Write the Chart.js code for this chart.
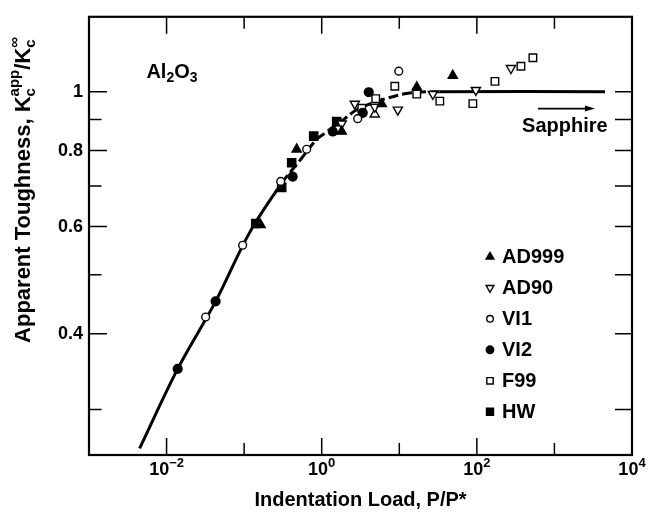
<!DOCTYPE html>
<html><head><meta charset="utf-8">
<script src="https://cdn.jsdelivr.net/npm/chart.js@4.4.0/dist/chart.umd.min.js"></script>
<style>html,body{margin:0;padding:0;background:#fff;}</style>
</head><body>
<canvas id="c" width="656" height="515"></canvas>
<script>
// ---------- data ----------
const xTickValues = [1e-3, 1e-2, 1e-1, 1e0, 1e1, 1e2, 1e3, 1e4];
const xTickExponents = ['', '−2', '', '0', '', '2', '', '4'];
const yTickValues = [0.3, 0.4, 0.5, 0.6, 0.7, 0.8, 0.9, 1.0];
const yTickLabels = ['', '0.4', '', '0.6', '', '0.8', '', '1'];

const seriesNames = ['AD999', 'AD90', 'VI1', 'VI2', 'F99', 'HW'];

const ad999X = [0.163, 0.476, 1.81, 5.95, 16.8, 49.0];
const ad999Y = [0.604, 0.804, 0.860, 0.955, 1.017, 1.063];
const ad999OpenX = [4.83];
const ad999OpenY = [0.918];

const ad90X = [1.81, 2.67, 4.83, 9.57, 27.1, 97.1, 275];
const ad90Y = [0.886, 0.955, 0.944, 0.934, 0.991, 1.006, 1.093];

const vi1X = [0.0319, 0.0957, 0.296, 0.640, 2.91, 9.85];
const vi1Y = [0.426, 0.559, 0.712, 0.804, 0.903, 1.081];

const vi2X = [0.0139, 0.0429, 0.422, 1.39, 3.38, 4.04];
const vi2Y = [0.350, 0.452, 0.725, 0.860, 0.923, 0.998];

const f99X = [3.28, 4.97, 8.75, 16.8, 33.3, 88.8, 171, 370, 528];
const f99Y = [0.939, 0.974, 1.021, 0.991, 0.965, 0.956, 1.040, 1.101, 1.137];

const hwX = [0.141, 0.305, 0.410, 0.788, 1.56];
const hwY = [0.607, 0.696, 0.764, 0.845, 0.893];

const curveX = [0.00449, 0.0139, 0.0429, 0.118, 0.305, 0.520, 0.862, 1.09, 1.98, 2.83, 6.50, 13.7, 33.3, 4490];
const curveY = [0.259, 0.350, 0.452, 0.587, 0.707, 0.770, 0.835, 0.854, 0.903, 0.934, 0.973, 0.995, 1.0, 1.0];

// ---------- helpers ----------
const zip = (xs, ys) => xs.map((x, i) => ({x, y: ys[i]}));
const FONT = '"Liberation Sans", Arial, Helvetica, sans-serif';

const marker = (name, style, filled, radius, rotation) => ({
  label: name,
  pointStyle: style,
  rotation: rotation || 0,
  pointRadius: radius,
  pointHoverRadius: radius,
  pointBorderWidth: 1.4,
  backgroundColor: filled ? '#000' : '#fff',
  borderColor: '#000',
  showLine: false,
  order: 0
});

const datasets = [
  Object.assign(marker(seriesNames[0], 'triangle', true, 5.3), {data: zip(ad999X, ad999Y)}),
  Object.assign(marker(seriesNames[1], 'triangle', false, 5.3, 180), {data: zip(ad90X, ad90Y)}),
  Object.assign(marker(seriesNames[2], 'circle', false, 3.9), {data: zip(vi1X, vi1Y)}),
  Object.assign(marker(seriesNames[3], 'circle', true, 4.4), {data: zip(vi2X, vi2Y)}),
  Object.assign(marker(seriesNames[4], 'rect', false, 5.3), {data: zip(f99X, f99Y)}),
  Object.assign(marker(seriesNames[5], 'rect', true, 5.8), {data: zip(hwX, hwY)}),
  Object.assign(marker('AD999 (open)', 'triangle', false, 5.3), {data: zip(ad999OpenX, ad999OpenY), legendHidden: true}),
  {
    label: 'curve', legendHidden: true,
    data: zip(curveX, curveY),
    showLine: true, pointRadius: 0, borderColor: '#000', borderWidth: 3,
    tension: 0.35, fill: false, order: 5,
    segment: {
      borderDash: c => (c.p0.parsed.x >= 0.3 && c.p1.parsed.x <= 34) ? [10, 4] : undefined
    }
  }
];

// ---------- plugins ----------
const framePlugin = {
  id: 'frame',
  afterDatasetsDraw(chart) {
    const {ctx, chartArea: {left, right, top, bottom}, scales: {x, y}} = chart;
    ctx.save();
    ctx.strokeStyle = '#000';
    ctx.lineWidth = 1.5;
    ctx.beginPath();
    xTickValues.forEach((v, i) => {
      const px = x.getPixelForValue(v);
      if (px <= left + 1 || px >= right - 1) return;
      const len = xTickExponents[i] ? 17 : 12;
      ctx.moveTo(px, bottom); ctx.lineTo(px, bottom - len);
      ctx.moveTo(px, top); ctx.lineTo(px, top + len);
    });
    yTickValues.forEach((v, i) => {
      const py = y.getPixelForValue(v);
      const len = yTickLabels[i] ? 18 : 12.5;
      ctx.moveTo(left, py); ctx.lineTo(left + len, py);
      ctx.moveTo(right, py); ctx.lineTo(right - 17, py);
    });
    ctx.stroke();
    ctx.lineWidth = 2.2;
    ctx.strokeRect(left, top, right - left, bottom - top);
    ctx.restore();
  }
};

function drawScripted(ctx, parts, startX, baseY) {
  let cx = startX;
  parts.forEach(p => {
    if (p.stack) {
      let w = 0;
      p.stack.forEach(s => {
        ctx.font = s.f;
        ctx.fillText(s.t, cx, baseY + s.dy);
        w = Math.max(w, ctx.measureText(s.t).width);
      });
      cx += w;
    } else {
      ctx.font = p.f;
      ctx.fillText(p.t, cx, baseY + (p.dy || 0));
      cx += ctx.measureText(p.t).width;
    }
  });
  return cx - startX;
}
function measureScripted(ctx, parts) {
  let w = 0;
  parts.forEach(p => {
    if (p.stack) {
      let m = 0;
      p.stack.forEach(s => { ctx.font = s.f; m = Math.max(m, ctx.measureText(s.t).width); });
      w += m;
    } else { ctx.font = p.f; w += ctx.measureText(p.t).width; }
  });
  return w;
}

const textPlugin = {
  id: 'texts',
  afterDraw(chart) {
    const {ctx, chartArea, scales: {x, y}} = chart;
    const big = 'bold 22px ' + FONT;
    const sm = 'bold 15px ' + FONT;
    ctx.save();
    ctx.fillStyle = '#000';
    ctx.textBaseline = 'alphabetic';
    ctx.textAlign = 'left';

    // x tick labels (10 with superscript exponent), placed by the x scale
    xTickValues.forEach((v, i) => {
      if (!xTickExponents[i]) return;
      const parts = [
        {t: '10', f: 'bold 18px ' + FONT},
        {t: xTickExponents[i], f: 'bold 13px ' + FONT, dy: -8}
      ];
      const w = measureScripted(ctx, parts);
      drawScripted(ctx, parts, x.getPixelForValue(v) - w / 2, chartArea.bottom + 20);
    });

    // y axis title
    const yParts = [
      {t: 'Apparent Toughness, K', f: big},
      {stack: [{t: 'c', f: sm, dy: 5}, {t: 'app', f: sm, dy: -11}]},
      {t: '/K', f: big},
      {stack: [{t: 'c', f: sm, dy: 5}, {t: '∞', f: sm, dy: -11}]}
    ];
    const tw = measureScripted(ctx, yParts);
    ctx.save();
    ctx.translate(30, 190);
    ctx.rotate(-Math.PI / 2);
    drawScripted(ctx, yParts, -tw / 2, 0);
    ctx.restore();

    // Al2O3 label
    const alParts = [
      {t: 'Al', f: 'bold 20px ' + FONT},
      {t: '2', f: 'bold 14px ' + FONT, dy: 4},
      {t: 'O', f: 'bold 20px ' + FONT},
      {t: '3', f: 'bold 14px ' + FONT, dy: 4}
    ];
    drawScripted(ctx, alParts, x.getPixelForValue(0.0055), y.getPixelForValue(1.083) + 7);

    // Sapphire arrow + text
    const ay = y.getPixelForValue(0.938);
    const ax0 = x.getPixelForValue(612), ax1 = x.getPixelForValue(3330);
    ctx.strokeStyle = '#000';
    ctx.lineWidth = 1.6;
    ctx.beginPath(); ctx.moveTo(ax0, ay); ctx.lineTo(ax1 - 6, ay); ctx.stroke();
    ctx.beginPath(); ctx.moveTo(ax1, ay); ctx.lineTo(ax1 - 10, ay - 3); ctx.lineTo(ax1 - 10, ay + 3); ctx.closePath(); ctx.fill();
    ctx.font = 'bold 20px ' + FONT;
    ctx.textAlign = 'center';
    ctx.textBaseline = 'middle';
    ctx.fillText('Sapphire', x.getPixelForValue(1365), y.getPixelForValue(0.878));

    // legend
    ctx.textAlign = 'left';
    ctx.textBaseline = 'middle';
    ctx.font = 'bold 20px ' + FONT;
    const lx = chartArea.right - 142;
    let ly = chartArea.top + 240;
    chart.data.datasets.forEach(ds => {
      if (ds.legendHidden) return;
      ctx.fillStyle = ds.backgroundColor;
      ctx.strokeStyle = ds.borderColor;
      ctx.lineWidth = ds.pointBorderWidth;
      Chart.helpers.drawPoint(ctx, {pointStyle: ds.pointStyle, rotation: ds.rotation, radius: ds.pointRadius * 0.85, borderWidth: ds.pointBorderWidth}, lx, ly);
      ctx.fillStyle = '#000';
      ctx.fillText(ds.label, lx + 12, ly + 1);
      ly += 31;
    });
    ctx.restore();
  }
};

// ---------- chart ----------
new Chart(document.getElementById('c'), {
  type: 'scatter',
  data: {datasets},
  options: {
    responsive: false,
    animation: false,
    devicePixelRatio: 1,
    events: [],
    layout: {padding: {top: 8, right: 24, left: 0, bottom: 0}},
    plugins: {legend: {display: false}, tooltip: {enabled: false}},
    scales: {
      x: {
        type: 'logarithmic', min: 1e-3, max: 1e4,
        afterBuildTicks: s => { s.ticks = xTickValues.map(v => ({value: v})); },
        afterFit: s => { s.height = 60; },
        grid: {display: false, drawTicks: false},
        border: {display: false},
        ticks: {display: false},
        title: {
          display: true, text: 'Indentation Load, P/P*', color: '#000',
          font: {family: FONT, size: 20, weight: 'bold'}, padding: {top: 0, bottom: 3}
        }
      },
      y: {
        type: 'logarithmic', min: 0.2526, max: 1.328,
        afterBuildTicks: s => { s.ticks = yTickValues.map(v => ({value: v})); },
        afterFit: s => { s.width = 89; },
        grid: {display: false, drawTicks: false},
        border: {display: false},
        ticks: {
          autoSkip: false, padding: 6,
          color: '#000', font: {family: FONT, size: 18, weight: 'bold'},
          callback: (v, i) => yTickLabels[i]
        }
      }
    }
  },
  plugins: [framePlugin, textPlugin]
});
</script>
</body></html>
